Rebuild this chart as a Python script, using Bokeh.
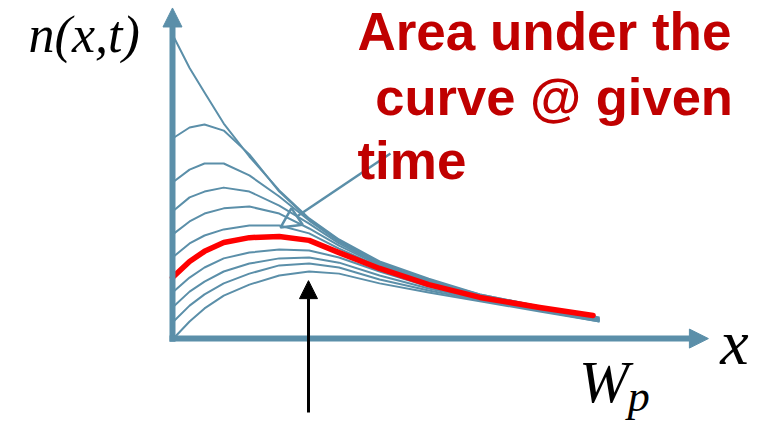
from bokeh.plotting import figure
from bokeh.models import Range1d, Arrow, NormalHead, Label
from bokeh.embed import file_html
from bokeh.resources import INLINE

# Position across the base, as a fraction of the base width W_p
x_pos = [0, 0.04, 0.075, 0.12, 0.18, 0.25, 0.32, 0.39, 0.485, 0.60, 0.72, 0.86, 1.0]
x_red = [0, 0.04, 0.075, 0.12, 0.18, 0.25, 0.32, 0.39, 0.485, 0.60, 0.72, 0.86, 0.985]

# Carrier profiles n(x,t) at successive times (arbitrary units)
n_t0 = [100.0, 89.0, 81.0, 70.8, 60.0, 48.9, 39.7, 32.8, 25.6, 19.9, 14.8, 10.8, 7.2]
n_t1 = [65.9, 69.5, 70.5, 68.5, 60.7, 48.5, 39.3, 32.5, 25.2, 19.7, 14.4, 10.5, 6.9]
n_t2 = [51.5, 55.7, 57.7, 57.7, 53.8, 46.9, 39.0, 32.1, 24.9, 19.3, 14.8, 10.8, 6.9]
n_t3 = [42.0, 46.6, 48.5, 49.8, 48.5, 43.9, 38.0, 31.5, 24.6, 19.0, 14.4, 10.5, 6.6]
n_t4 = [34.4, 38.7, 41.3, 43.0, 43.6, 41.3, 36.4, 30.8, 24.3, 18.7, 14.1, 10.2, 6.6]
n_t5 = [26.9, 31.5, 34.1, 36.1, 37.4, 37.4, 34.8, 29.8, 23.9, 18.4, 13.8, 10.2, 6.2]
n_t6 = [20.3, 25.6, 28.9, 31.8, 33.4, 33.8, 32.5, 28.5, 23.3, 18.0, 13.8, 10.5, 7.9]
n_t7 = [15.4, 20.3, 23.6, 26.6, 28.5, 29.5, 29.2, 26.9, 22.3, 17.4, 13.4, 9.8, 6.2]
n_t8 = [10.5, 15.7, 19.0, 22.3, 24.9, 26.6, 26.9, 25.2, 21.0, 16.7, 13.1, 9.5, 6.2]
n_t9 = [5.6, 11.1, 14.8, 18.4, 21.6, 24.3, 24.9, 23.6, 19.7, 16.1, 12.8, 9.5, 5.9]
n_t10 = [0.0, 5.9, 10.2, 14.4, 18.0, 21.0, 22.3, 21.6, 18.4, 15.4, 12.5, 9.2, 5.9]

blue_profiles = [n_t0, n_t1, n_t2, n_t3, n_t4, n_t5, n_t7, n_t8, n_t9, n_t10]
highlight = n_t6

AXIS = "#5b8fa9"
RED_TXT = "#c00000"

p = figure(width=764, height=427,
           x_range=Range1d(-0.4028, 1.3864), y_range=Range1d(-28.85, 111.15),
           output_backend="svg", toolbar_location=None, min_border=0)
p.axis.visible = False
p.grid.visible = False
p.outline_line_color = None
p.background_fill_color = "white"
p.border_fill_color = "white"

for prof in blue_profiles:
    p.line(x_pos, prof, line_color=AXIS, line_width=2, line_join="round")
p.line(x_red, highlight, line_color="#ff0000", line_width=5.5, line_join="round",
       line_cap="round")

# Axes with arrow heads
p.add_layout(Arrow(x_start=0, y_start=-0.7, x_end=0, y_end=108.7,
                   line_color=AXIS, line_width=6,
                   end=NormalHead(size=19, fill_color=AXIS, line_color=AXIS, line_width=1)))
p.add_layout(Arrow(x_start=-0.007, y_start=0.3, x_end=1.255, y_end=0.3,
                   line_color=AXIS, line_width=6,
                   end=NormalHead(size=19, fill_color=AXIS, line_color=AXIS, line_width=1)))

# Pointer from the caption to a profile
p.add_layout(Arrow(x_start=0.5105, y_start=61.0, x_end=0.2529, y_end=36.7,
                   line_color=AXIS, line_width=2.5,
                   end=NormalHead(size=20, fill_color=None, line_color=AXIS, line_width=2.5)))

# Marker pointing at the highlighted profile's peak region
p.add_layout(Arrow(x_start=0.3185, y_start=-23.9, x_end=0.3185, y_end=19.3,
                   line_color="black", line_width=3,
                   end=NormalHead(size=18, fill_color="black", line_color="black", line_width=1)))

cap = dict(text_color=RED_TXT, text_font="Liberation Sans", text_font_style="bold",
           text_baseline="alphabetic")
p.add_layout(Label(x=0.433, y=101.0, text="Area under the", text_font_size="53px", **cap))
p.add_layout(Label(x=0.475, y=79.6, text="curve @ given", text_font_size="52.5px", **cap))
p.add_layout(Label(x=0.433, y=58.6, text="time", text_font_size="53px", **cap))

serif = dict(text_color="black", text_font="Liberation Serif", text_font_style="italic",
             text_baseline="alphabetic")
p.add_layout(Label(x=-0.337, y=100.0, text="n(x,t)", text_font_size="52px", **serif))
p.add_layout(Label(x=1.283, y=-0.9, text="x", text_font_size="64px", **serif))
p.add_layout(Label(x=0.952, y=-14.0, text="W", text_font_size="60px", **serif))
p.add_layout(Label(x=1.066, y=-18.6, text="p", text_font_size="44px", **serif))

open("out.html", "w").write(file_html(p, INLINE))
